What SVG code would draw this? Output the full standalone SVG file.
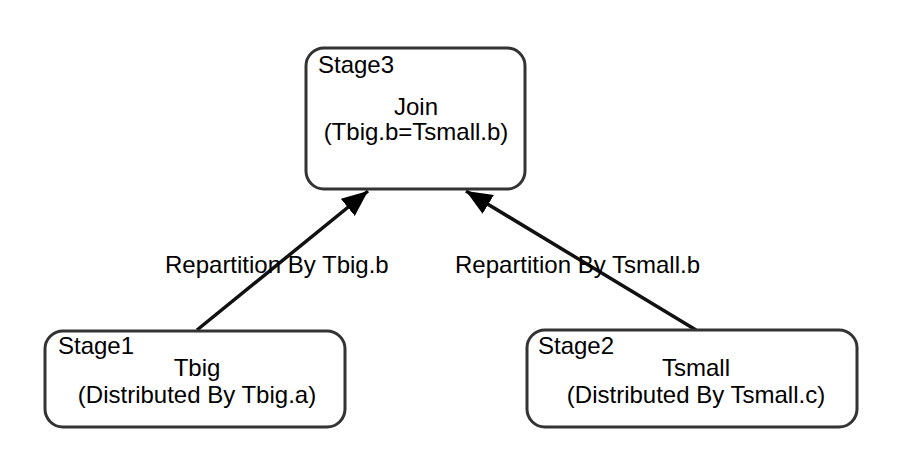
<svg xmlns="http://www.w3.org/2000/svg" width="910" height="470" viewBox="0 0 910 470">
<style>
.box{fill:#fff;stroke:#333;stroke-width:3}
.t{font-family:"Liberation Sans",Arial,sans-serif;font-size:24px;fill:#000}
.c{text-anchor:middle}
.edge{stroke:#111;stroke-width:3.5;fill:none}
</style>
<defs>
<marker id="arr" markerUnits="userSpaceOnUse" markerWidth="28" markerHeight="24" refX="26" refY="11" orient="auto">
<path d="M0,0 L26,11 L0,22 Z" fill="#000"/>
</marker>
</defs>
<rect width="910" height="470" fill="#fff"/>
<g id="connectors">
<line class="edge" x1="197" y1="330" x2="368" y2="191" marker-end="url(#arr)"/>
<line class="edge" x1="696" y1="330" x2="466" y2="191" marker-end="url(#arr)"/>
<text class="t" x="165" y="273">Repartition By Tbig.b</text>
<text class="t" x="455" y="273">Repartition By Tsmall.b</text>
</g>
<g id="stage3">
<rect class="box" x="306" y="48" width="219" height="141" rx="18"/>
<text class="t" x="318" y="73">Stage3</text>
<text class="t c" x="416" y="115">Join</text>
<text class="t c" x="416" y="140">(Tbig.b=Tsmall.b)</text>
</g>
<g id="stage1">
<rect class="box" x="45" y="331" width="300" height="96" rx="18"/>
<text class="t" x="58" y="354">Stage1</text>
<text class="t c" x="197" y="376">Tbig</text>
<text class="t c" x="197" y="403">(Distributed By Tbig.a)</text>
</g>
<g id="stage2">
<rect class="box" x="527" y="330" width="330" height="97" rx="18"/>
<text class="t" x="538" y="354">Stage2</text>
<text class="t c" x="696" y="376">Tsmall</text>
<text class="t c" x="696" y="403">(Distributed By Tsmall.c)</text>
</g>
</svg>
